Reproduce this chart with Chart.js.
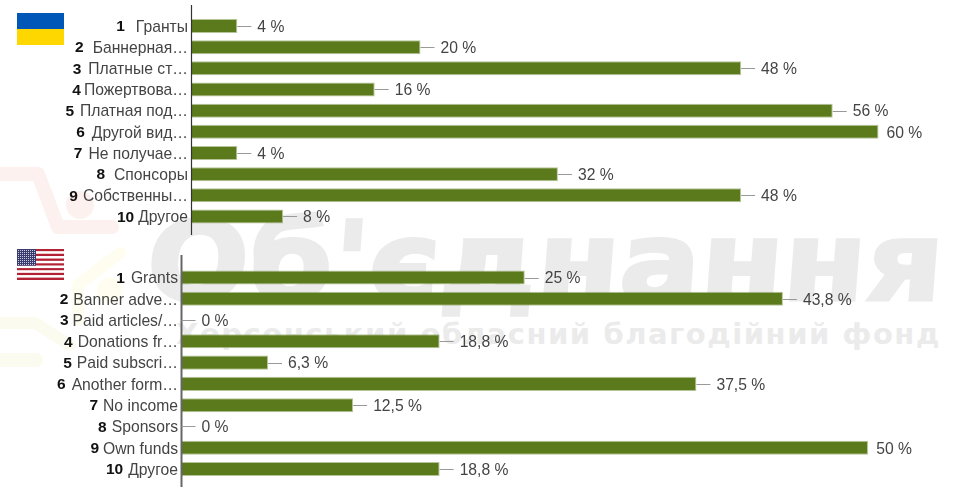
<!DOCTYPE html>
<html><head><meta charset="utf-8">
<style>
html,body{margin:0;padding:0;background:#fff;width:961px;height:497px;overflow:hidden}
.c{position:absolute;left:0;width:961px}
#wm1,#wm2{position:absolute;white-space:nowrap;font-family:"DejaVu Sans";font-weight:bold;color:#ebebeb;z-index:0}
#wm1{left:152px;top:198px;font-size:110px;transform-origin:left top;transform:scaleX(1.09) skewX(-4deg);-webkit-text-stroke:3px #ebebeb}
#wm2{left:176px;top:317px;font-size:29px;letter-spacing:1.55px;color:#ebebeb}
#wrap1,#wrap2{position:absolute;left:0;width:961px;z-index:1}
#wrap1{top:0;height:240px}#wrap2{top:240px;height:257px}
#logo{position:absolute;left:0;top:160px;z-index:0}
svg.flag{position:absolute;left:17px;z-index:2}
</style></head><body>
<svg id="logo" width="140" height="215" fill="none" stroke-linecap="round" stroke-linejoin="round">
<path d="M0 14H38L58 67H112" stroke="#fdf1ef" stroke-width="14"/>
<circle cx="80" cy="45" r="14" fill="#fdf1ef"/>
<path d="M120 93L78 125V160" stroke="#fffdf0" stroke-width="12"/>
<circle cx="110" cy="130" r="13" fill="#fffdf0"/>
<path d="M0 163H35L70 185" stroke="#fbfcef" stroke-width="12"/>
<path d="M0 200H36" stroke="#fbfcef" stroke-width="14"/>
</svg>
<div id="wm1">Об'єднання</div>
<div id="wm2">Херсонський обласний благодійний фонд</div>
<svg class="flag" style="top:13px" width="47" height="32"><rect width="47" height="16" fill="#0057b8"/><rect y="16" width="47" height="16" fill="#ffd700"/></svg>
<svg class="flag" id="us" style="top:249px" width="47" height="31"></svg>
<div id="wrap1"><canvas id="c1" class="c" width="961" height="240"></canvas></div>
<div id="wrap2"><canvas id="c2" class="c" width="961" height="257"></canvas></div>
<script src="https://cdn.jsdelivr.net/npm/chart.js@4"></script>
<script>
const ranks = ["1","2","3","4","5","6","7","8","9","10"];
const labelsUk = ["Гранты","Баннерная…","Платные ст…","Пожертвова…","Платная под…","Другой вид…","Не получае…","Спонсоры","Собственны…","Другое"];
const valuesUk = [4,20,48,16,56,60,4,32,48,8];
const textUk = ["4 %","20 %","48 %","16 %","56 %","60 %","4 %","32 %","48 %","8 %"];
const labelsEn = ["Grants","Banner adve…","Paid articles/…","Donations fr…","Paid subscri…","Another form…","No income","Sponsors","Own funds","Другое"];
const valuesEn = [25,43.8,0,18.8,6.3,37.5,12.5,0,50,18.8];
const textEn = ["25 %","43,8 %","0 %","18,8 %","6,3 %","37,5 %","12,5 %","0 %","50 %","18,8 %"];
const gapsUk = [11,9,7,3,6,7,6,9,5,4];
const gapsEn = [6,5,4,5,5,6,5,5,4,5];

(function(){
  const s=document.getElementById('us');let h='';
  for(let i=0;i<13;i++){h+=`<rect y="${i*31/13}" width="47" height="${31/13}" fill="${i%2?'#fff':'#b22234'}"/>`;}
  h+='<rect width="19" height="16.7" fill="#3c3b6e"/>';
  for(let y=0;y<8;y++)for(let x=0;x<9;x++){h+=`<rect x="${1+x*2}" y="${1+y*2}" width="1" height="1" fill="#c8cbe0"/>`;}
  s.innerHTML=h;
})();

const FONT='"Liberation Sans", Arial, sans-serif';
const INK='#444';
const SIZE=15.7;
const LABEL_SHIFT=1.5;
const extras={
  id:'extras',
  beforeDraw(chart){
    const y=chart.scales.y;
    y.getLabelItems(chart.chartArea).forEach(it=>{
      if(!it.shifted){it.options.translation[1]+=LABEL_SHIFT;it.shifted=true;}
    });
  },
  afterDatasetsDraw(chart,args,o){
    const {ctx,scales:{x,y}}=chart;
    ctx.save();
    ctx.strokeStyle=o.axisColor;ctx.lineWidth=o.axisWidth;
    ctx.beginPath();ctx.moveTo(x.left,o.axisTop);ctx.lineTo(x.left,o.axisBottom);ctx.stroke();
    ctx.lineWidth=1;
    ctx.textBaseline='middle';
    o.values.forEach((v,i)=>{
      const px=x.getPixelForValue(v),py=y.getPixelForValue(i);
      ctx.font=SIZE+'px '+FONT;
      const tw=ctx.measureText(o.text[i]).width;
      const off=Math.min(20,Math.max(8,o.limit-px-tw));
      if(off>=14){
        ctx.strokeStyle='#999';
        ctx.beginPath();ctx.moveTo(px,Math.round(py)+.5);ctx.lineTo(px+14,Math.round(py)+.5);ctx.stroke();
      }
      ctx.fillStyle=INK;ctx.textAlign='left';
      ctx.fillText(o.text[i],px+off,py+1.5);
      const w=ctx.measureText(chart.data.labels[i]).width;
      ctx.font='bold 15.5px '+FONT;ctx.fillStyle='#111';ctx.textAlign='right';
      ctx.fillText(ranks[i],x.left-3.5-w-o.gaps[i],py+LABEL_SHIFT-.5);
    });
    ctx.restore();
  }
};
function make(id,labels,values,text,gaps,left,max,top,bottom,aT,aB,limit,axisColor,axisWidth){
  new Chart(document.getElementById(id),{
    type:'bar',
    data:{labels,datasets:[{data:values,backgroundColor:'#5a7a1b',borderColor:'rgba(122,150,70,0.55)',borderWidth:1,barPercentage:.66,categoryPercentage:1}]},
    plugins:[extras],
    options:{
      indexAxis:'y',responsive:false,animation:false,
      layout:{padding:{top,bottom,right:21,left:0}},
      plugins:{legend:{display:false},tooltip:{enabled:false},title:{display:false},
        extras:{values,text,gaps,axisTop:aT,axisBottom:aB,limit,axisColor,axisWidth}},
      scales:{
        x:{display:false,min:0,max,grid:{display:false}},
        y:{grid:{display:false,drawTicks:false},border:{display:false},
          afterFit(s){s.width=left;},
          ticks:{autoSkip:false,padding:3.5,color:INK,font:{family:FONT,size:SIZE}}}
      }
    }
  });
}
make('c1',labelsUk,valuesUk,textUk,gapsUk,191.5,65.37,15.4,12,5,235,922,'#333',1.2);
make('c2',labelsEn,valuesEn,textEn,gapsEn,181.5,55.24,26.9,17.4,15,247,912,'#666',2);
</script>
</body></html>
